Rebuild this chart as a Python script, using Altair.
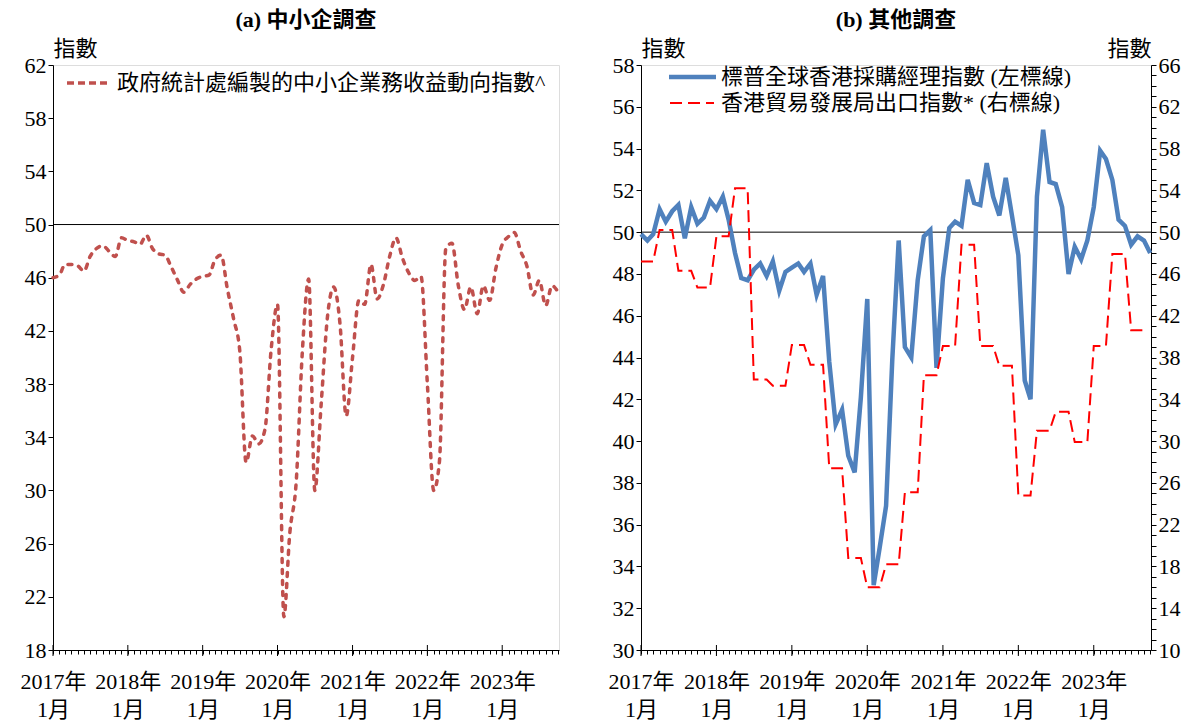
import altair as alt
import pandas as pd
from datetime import date

FONT = "Liberation Serif, Noto Sans CJK TC"
SME_NAME = "政府統計處編製的中小企業務收益動向指數^"
PMI_NAME = "標普全球香港採購經理指數 (左標線)"
TDC_NAME = "香港貿易發展局出口指數* (右標線)"
TITLE_A = "(a) 中小企調查"
TITLE_B = "(b) 其他調查"
Y_TITLE = "指數"

# monthly dates, Jan 2017 .. Oct 2023
months = [date(2017 + i // 12, i % 12 + 1, 1) for i in range(82)]
day = [(d - date(2017, 1, 1)).days for d in months]
jan_days = [d for d, m in zip(day, months) if m.month == 1]

sme_values = [46.0, 46.2, 47.0, 47.0, 46.9, 46.5, 47.6, 48.2, 48.4, 48.0, 47.6, 49.0,
              48.8, 48.7, 48.5, 49.2, 48.2, 47.8, 47.7, 46.8, 45.8, 44.9, 45.5, 45.9,
              46.1, 46.2, 47.3, 47.7, 45.2, 42.9, 40.5, 32.1, 34.1, 33.5, 34.6, 40.6,
              44.0, 20.5, 26.8, 30.6, 40.4, 45.9, 30.0, 36.5, 43.1, 45.3, 42.5, 35.6,
              40.0, 44.3, 44.0, 47.0, 44.4, 45.5, 47.6, 49.0, 47.5, 46.4, 45.8, 46.1,
              38.0, 30.0, 32.2, 48.2, 48.6, 45.4, 43.6, 45.3, 43.3, 45.4, 44.3, 46.7,
              48.5, 49.1, 49.4, 48.0, 46.9, 44.7, 45.8, 43.9, 45.4, 44.9]

pmi_values = [49.9, 49.6, 49.9, 51.1, 50.5, 51.0, 51.3, 49.7, 51.2, 50.4, 50.7, 51.5,
              51.1, 51.7, 50.6, 49.0, 47.8, 47.7, 48.2, 48.5, 47.9, 48.6, 47.2, 48.1,
              48.3, 48.5, 48.1, 48.5, 47.0, 47.9, 43.8, 40.8, 41.5, 39.3, 38.5, 42.1,
              46.8, 33.1, 34.9, 36.9, 43.9, 49.6, 44.5, 44.0, 47.7, 49.8, 50.1, 43.5,
              47.8, 50.2, 50.5, 50.3, 52.5, 51.4, 51.3, 53.3, 51.7, 50.8, 52.6, 50.8,
              48.9, 42.9, 42.0, 51.7, 54.9, 52.4, 52.3, 51.2, 48.0, 49.3, 48.7, 49.6,
              51.2, 53.9, 53.5, 52.5, 50.6, 50.3, 49.4, 49.8, 49.6, 49.0]

tdc_quarterly = [47.2, 50.2, 46.3, 44.7, 49.6, 54.2, 35.9, 35.3, 39.2, 37.3, 27.4, 18.8,
                 16.0, 18.2, 25.1, 36.3, 39.1, 48.8, 39.1, 37.2, 24.8, 31.0, 32.8, 29.9,
                 39.1, 47.9, 40.6]
tdc_values = [v for v in tdc_quarterly for _ in range(3)]

ref_level = [50]

X_END = 2468
H = 585
BLUE, RED, BROWN = "#4F81BD", "#FF0000", "#C0504D"

sme_df = pd.DataFrame({"day": day, "value": sme_values, "series": SME_NAME})
pmi_df = pd.DataFrame({"day": day, "value": pmi_values, "series": PMI_NAME})
tdc_df = pd.DataFrame({"day": day[:len(tdc_values)], "value": tdc_values, "series": TDC_NAME})
ref_df = pd.DataFrame({"value": ref_level})
jan_df = pd.DataFrame({"day": jan_days})

label_expr = (f"indexof({jan_days}, datum.value) >= 0 ? "
              "[toString(round(datum.value / 365.25) + 2017) + '年', '1月'] : ''")


def x_enc():
    return alt.X(
        "day:Q",
        scale=alt.Scale(domain=[0, X_END], nice=False, zero=False),
        axis=alt.Axis(values=day, labelExpr=label_expr, tickSize=4, labelOverlap=False,
                      labelFlush=False, labelBound=False, title=None, grid=False,
                      labelPadding=17, labelLineHeight=28, labelFontSize=22, labelFont=FONT,
                      labelColor="black", domainColor="black", tickColor="black",
                      labelAngle=0, labelAlign="center"),
    )


def y_axis(values, extent, orient="left", label_expr=None):
    kw = dict(values=values, title=Y_TITLE, titleAngle=0, titleX=0, titleY=-10,
              titleAlign="left" if orient == "left" else "right",
              titleBaseline="alphabetic", titleFont=FONT, titleFontSize=22,
              titleFontWeight="normal", titleColor="black", labelFont=FONT,
              labelFontSize=22, labelColor="black", domainColor="black",
              tickColor="black", tickSize=5, grid=False, orient=orient,
              labelOverlap=False, labelFlush=False)
    if extent is not None:
        kw["minExtent"] = extent
        kw["maxExtent"] = extent
    if label_expr:
        kw["labelExpr"] = label_expr
    return alt.Axis(**kw)


def year_ticks():
    # longer tick marks at each January, crossing the x axis line
    return alt.Chart(jan_df).mark_rule(color="black", strokeWidth=1).encode(
        x=x_enc(), y=alt.value(H - 5), y2=alt.value(H + 6))


def legend_entry(label, color, width, dash, x0, x1, yc, tx):
    df = pd.DataFrame({"label": [label]})
    sample = alt.Chart(df).mark_rule(color=color, strokeWidth=width, strokeDash=dash).encode(
        x=alt.value(x0), x2=alt.value(x1), y=alt.value(yc))
    text = alt.Chart(df).mark_text(align="left", baseline="middle", font=FONT, fontSize=22,
                                   color="black").encode(
        x=alt.value(tx), y=alt.value(yc), text="label:N")
    return [sample, text]


def panel_title(txt):
    return alt.Title(txt, fontSize=22, fontWeight="bold", font=FONT, color="black",
                     anchor="middle", frame="group", offset=5)


# ---------------- panel (a) ----------------
y_a = alt.Y("value:Q", scale=alt.Scale(domain=[18, 62], nice=False, zero=False),
            axis=y_axis(list(range(18, 63, 4)), 44))

leg_a = alt.Legend(title=None, orient="none", legendX=12, legendY=-5, symbolType="stroke",
                   symbolSize=1764, symbolStrokeWidth=3.5, symbolDash=[7, 4],
                   labelFont=FONT, labelFontSize=22, labelColor="black", labelLimit=0,
                   labelOffset=6, padding=0)

ref_a = alt.Chart(ref_df).mark_rule(color="black", strokeWidth=1).encode(y=y_a)
sme_line = alt.Chart(sme_df).mark_line(strokeWidth=3.5, strokeCap="round", strokeDash=[4, 7],
                                       interpolate="monotone").encode(
    x=x_enc(),
    y=y_a,
    color=alt.Color("series:N", scale=alt.Scale(domain=[SME_NAME], range=[BROWN]),
                    legend=leg_a),
)
left = alt.layer(ref_a, year_ticks(), sme_line).properties(
    width=506, height=H, title=panel_title(TITLE_A))

# ---------------- panel (b) ----------------
y_bl = alt.Y("value:Q", scale=alt.Scale(domain=[30, 58], nice=False, zero=False),
             axis=y_axis(list(range(30, 59, 2)), 40))
y_br = alt.Y("value:Q", scale=alt.Scale(domain=[10, 66], nice=False, zero=False),
             axis=y_axis(list(range(10, 67)), None, orient="right",
                         label_expr="(datum.value - 10) % 4 == 0 ? datum.label : ''"))

ref_b = alt.Chart(ref_df).mark_rule(color="black", strokeWidth=1).encode(y=y_bl)
pmi_line = alt.Chart(pmi_df).mark_line(color=BLUE, strokeWidth=4.5).encode(x=x_enc(), y=y_bl)
tdc_line = alt.Chart(tdc_df).mark_line(color=RED, strokeWidth=2, strokeDash=[12, 6]).encode(
    x=x_enc(), y=y_br)

legend_b = (legend_entry(PMI_NAME, BLUE, 4.5, [1, 0], 28, 75, 12, 80)
            + legend_entry(TDC_NAME, RED, 2, [12, 6], 29, 73, 38, 80))

right = alt.layer(alt.layer(ref_b, year_ticks(), pmi_line, *legend_b), tdc_line).resolve_scale(
    y="independent").properties(width=510, height=H, title=panel_title(TITLE_B))

chart = alt.hconcat(left, right, spacing=34).resolve_scale(
    color="independent"
).resolve_legend(
    color="independent"
).properties(padding=0).configure_view(stroke="black", strokeWidth=1).configure(font=FONT)

chart.save("out.html", embed_options={"renderer": "svg", "actions": False})
